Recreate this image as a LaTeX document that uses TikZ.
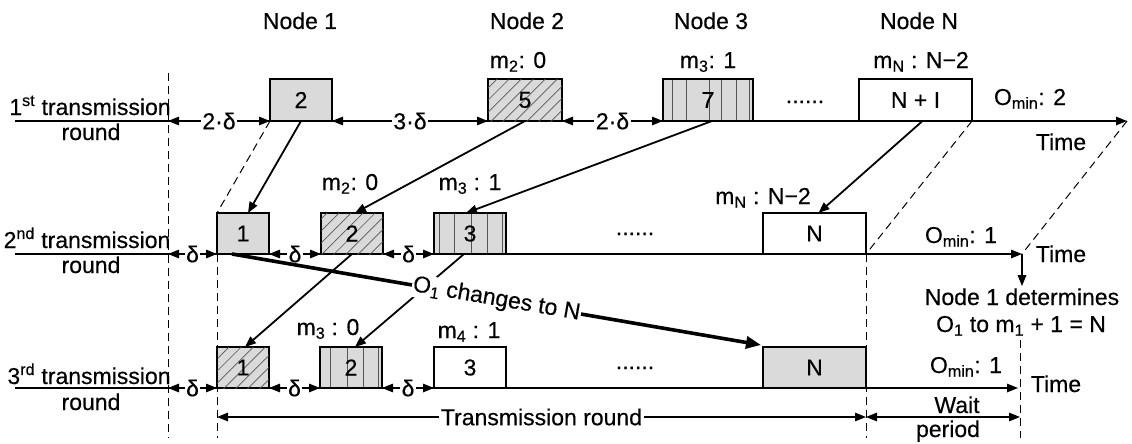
\documentclass[tikz,border=0pt]{standalone}
\usepackage{fontspec}
\setmainfont{Liberation Sans}[FakeBold=0.4]
\usetikzlibrary{arrows.meta,patterns.meta,calc}
\definecolor{slotgray}{HTML}{DADADA}
\definecolor{stripecol}{HTML}{555555}
\tikzset{
  slot/.style={draw, line width=1.6pt, inner sep=0pt, outer sep=0pt,
               anchor=south west, minimum height=41pt},
  greyslot/.style={slot, fill=slotgray},
  whiteslot/.style={slot, fill=white},
  hatchslot/.style={slot, fill=slotgray,
     postaction={pattern={Lines[angle=45,distance=8.5pt,line width=0.7pt]},
                 pattern color=stripecol}},
  stripeslot/.style={slot, fill=slotgray, path picture={
     \foreach \s in {#1}{\draw[stripecol, line width=1pt]
       ([xshift=\s pt]path picture bounding box.south west) --
       ([xshift=\s pt]path picture bounding box.north west);}}},
  lane/.style={line width=1.4pt},
  gap/.style={line width=1.4pt, <->},
  hop/.style={line width=1.8pt, ->},
  guide/.style={line width=1pt, dash pattern=on 8pt off 5pt},
  lbl/.style={fill=white, inner sep=1.5pt},
  txt/.style={anchor=base, inner sep=0pt},
}
\begin{document}
\begin{tikzpicture}[x=1pt, y=-1pt, >={Triangle[length=11pt,width=8.5pt]},
  font=\fontsize{23}{27}\selectfont]
\useasboundingbox (0,0) rectangle (1132,444);

% ---- named reference points ----
\coordinate (s1) at (15,121);  \coordinate (e1) at (1127,121);
\coordinate (s2) at (15,254);  \coordinate (e2) at (1022,254);
\coordinate (s3) at (15,388);  \coordinate (e3) at (1018,388);
\coordinate (g0t) at (168,73); \coordinate (g0b) at (168,438);
\coordinate (a1) at (168,121); \coordinate (a2) at (168,254); \coordinate (a3) at (168,388);
\coordinate (g1b) at (217,438);
\coordinate (g2b) at (866,438);
\coordinate (g3t) at (1020,340); \coordinate (g3b) at (1020,438);
\coordinate (dl) at (217,417); \coordinate (dm) at (866,417); \coordinate (dr) at (1020,417);

% ---- time lines ----
\draw[lane,->] (s1) -- (e1);
\draw[lane,->] (s2) -- (e2);
\draw[lane,->] (s3) -- (e3);

% ---- slots, round 1 ----
\node[greyslot, minimum width=62, minimum height=42] (r1a) at (270,121) {2};
\node[hatchslot, minimum width=74, minimum height=42] (r1b) at (488,121) {5};
\node[stripeslot={9,23,46,58,73,86}, minimum width=90, minimum height=42] (r1c) at (663,121) {7};
\node[whiteslot, minimum width=113, minimum height=42] (r1d) at (859,121) {N + I};

% ---- slots, round 2 ----
\node[greyslot, minimum width=52] (r2a) at (217,254) {1};
\node[hatchslot, minimum width=62] (r2b) at (321,254) {2};
\node[stripeslot={5,20,37,53,68}, minimum width=72] (r2c) at (434,254) {3};
\node[whiteslot, minimum width=103] (r2d) at (763,254) {N};

% ---- slots, round 3 ----
\node[hatchslot, minimum width=52] (r3a) at (217,388) {1};
\node[stripeslot={10,27,43,58}, minimum width=62] (r3b) at (320,388) {2};
\node[whiteslot, minimum width=72] (r3c) at (434,388) {3};
\node[greyslot, minimum width=103] (r3d) at (763,388) {N};

% ---- dashed guides ----
\draw[guide] (g0t) -- (g0b);
\draw[guide] (r2a.south west) -- (g1b);
\draw[guide] (r2d.south east) -- (g2b);
\draw[guide] (g3t) -- (g3b);
\draw[guide] (r1a.south west) -- (r2a.north west);
\draw[guide] (r1d.south east) -- (r2d.south east);
\draw[guide] (e1) -- (e2);

% ---- spacing between slots ----
\draw[gap] (a1) -- node[lbl]{2·δ} (r1a.south west);
\draw[gap] (r1a.south east) -- node[lbl]{3·δ} (r1b.south west);
\draw[gap] (r1b.south east) -- node[lbl]{2·δ} (r1c.south west);
\draw[gap] (a2) -- node[lbl]{δ} (r2a.south west);
\draw[gap] (r2a.south east) -- node[lbl]{δ} (r2b.south west);
\draw[gap] (r2b.south east) -- node[lbl]{δ} (r2c.south west);
\draw[gap] (a3) -- node[lbl]{δ} (r3a.south west);
\draw[gap] (r3a.south east) -- node[lbl]{δ} (r3b.south west);
\draw[gap] (r3b.south east) -- node[lbl]{δ} (r3c.south west);

% ---- slot moves between rounds ----
\draw[hop] (r1a.south) -- ([xshift=5pt]r2a.north);
\draw[hop] (r1b.south) -- ([xshift=3pt]r2b.north);
\draw[hop] ([xshift=4pt]r1c.south) -- ([xshift=-4pt]r2c.north);
\draw[hop] ([xshift=7pt]r1d.south) -- ([xshift=4pt]r2d.north);
\draw[hop] (r2b.south) -- ([xshift=2pt]r3a.north);
\draw[hop] ([xshift=-6pt]r2c.south) -- ([xshift=4pt]r3b.north);
\draw[line width=3.6pt, -{Triangle[length=15pt,width=12pt]}]
  ([xshift=-11pt]r2a.south) --
  node[lbl, sloped, inner sep=1pt]{O\textsubscript{1} changes to N}
  ([xshift=-2pt,yshift=2pt]r3d.north west);

% ---- decision of node 1 ----
\node[txt, inner sep=2pt] (det) at (1022,305) {Node 1 determines};
\draw[line width=1.4pt, ->] (e2) -- (det.north);
\node[txt] (rule) at (1021,332) {O\textsubscript{1} to m\textsubscript{1} + 1 = N};

% ---- round and wait period spans ----
\draw[line width=1.3pt, <->] (dl) -- node[lbl]{Transmission round} (dm);
\draw[line width=1.3pt, <->] (dm) -- (dr);
\node[txt] (wait) at (957,413) {Wait};
\node[txt] (period) at (948,437) {period};

% ---- headings ----
\node[txt] (hn1) at (300,29) {Node 1};
\node[txt] (hn2) at (527,29) {Node 2};
\node[txt] (hn3) at (711,29) {Node 3};
\node[txt] (hnn) at (919,29) {Node N};
\node[txt] (m2a) at (518,68) {m\textsubscript{2}: 0};
\node[txt] (m3a) at (708,68) {m\textsubscript{3}: 1};
\node[txt] (mna) at (921,68) {m\textsubscript{N} : N−2};
\node[txt] (m2b) at (350,190) {m\textsubscript{2}: 0};
\node[txt] (m3b) at (470,190) {m\textsubscript{3} : 1};
\node[txt] (mnb) at (763,204) {m\textsubscript{N} : N−2};
\node[txt] (m3c) at (328,335) {m\textsubscript{3} : 0};
\node[txt] (m4c) at (469,338) {m\textsubscript{4} : 1};

% ---- row captions ----
\node[txt] (c1a) at (90,115) {1\textsuperscript{st} transmission};
\node[txt] (c1b) at (91,140) {round};
\node[txt] (c2a) at (87,248) {2\textsuperscript{nd} transmission};
\node[txt] (c2b) at (91,273) {round};
\node[txt] (c3a) at (89,384) {3\textsuperscript{rd} transmission};
\node[txt] (c3b) at (91,410) {round};

% ---- dots, minimum offsets, time ----
\node[txt] (dots1) at (805,103) {......};
\node[txt] (dots2) at (635,235) {......};
\node[txt] (dots3) at (635,369) {......};
\node[txt] (om1) at (1030,105) {O\textsubscript{min}: 2};
\node[txt] (om2) at (961,243) {O\textsubscript{min}: 1};
\node[txt] (om3) at (966,373) {O\textsubscript{min}: 1};
\node[txt] (t1) at (1061,150) {Time};
\node[txt] (t2) at (1061,262) {Time};
\node[txt] (t3) at (1056,392) {Time};
\end{tikzpicture}
\end{document}
